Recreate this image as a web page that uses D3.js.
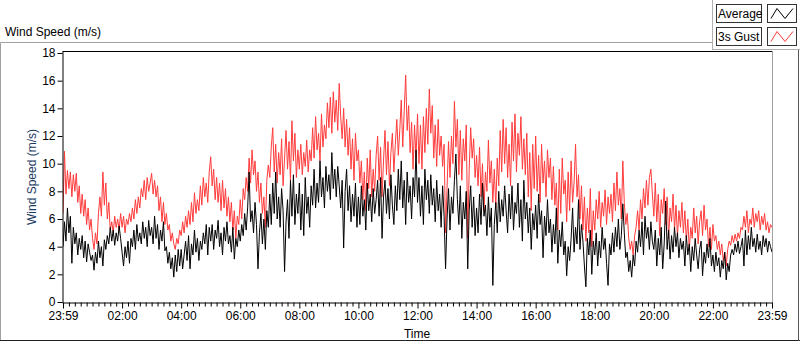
<!DOCTYPE html>
<html>
<head>
<meta charset="utf-8">
<script src="https://cdn.jsdelivr.net/npm/d3@7"></script>
<style>
  body { margin: 0; background: #fff; }
  svg { display: block; font-family: "Liberation Sans", Arial, sans-serif; }
</style>
</head>
<body>
<svg id="chart" width="800" height="342"></svg>
<script>
// minutes after 23:59, one sample every 3 minutes
const stepMinutes = 3;

// 3 second gust (m/s), one row per hour
const gust = [
  6.4, 10.9, 7.8, 9.5, 8.2, 9.4, 7.6, 9.2, 8.0, 9.3, 7.2, 8.4, 6.4, 7.8, 6.2, 7.4, 5.6, 6.8, 5.2, 6.0,
  4.6, 3.8, 5.0, 4.2, 6.4, 7.6, 6.2, 9.4, 7.0, 8.6, 6.0, 7.2, 5.2, 5.8, 5.0, 6.2, 5.4, 6.0, 5.2, 6.4,
  5.4, 6.2, 5.0, 6.0, 5.6, 6.4, 5.8, 6.8, 6.0, 7.4, 6.4, 7.6, 6.8, 8.2, 7.6, 8.8, 7.4, 9.0, 8.0, 8.6,
  9.3, 7.8, 8.8, 7.6, 8.4, 6.6, 7.6, 5.8, 7.2, 5.6, 6.4, 5.2, 5.6, 4.4, 5.0, 4.2, 3.8, 4.6, 4.2, 5.2,
  4.8, 5.8, 5.0, 6.2, 5.4, 6.6, 5.6, 7.2, 5.8, 7.9, 6.4, 7.4, 6.6, 8.4, 7.0, 9.0, 7.6, 8.6, 7.2, 9.4,
  10.5, 8.4, 9.6, 7.4, 9.0, 7.2, 8.6, 6.6, 8.8, 6.8, 8.2, 6.2, 7.6, 5.8, 7.2, 5.2, 6.6, 4.6, 6.2, 5.6,
  7.4, 6.0, 8.2, 7.4, 9.0, 8.0, 10.4, 8.6, 11.0, 9.2, 10.2, 8.0, 9.4, 7.2, 8.6, 6.4, 7.6, 5.4, 8.8, 9.9,
  9.0, 11.2, 12.6, 9.4, 11.4, 8.6, 10.8, 9.2, 11.8, 8.4, 10.4, 12.4, 9.6, 11.6, 8.8, 13.1, 10.2, 12.2, 9.0, 11.0,
  9.6, 11.4, 9.2, 10.8, 9.8, 11.7, 9.4, 11.0, 10.2, 12.6, 10.4, 13.4, 11.0, 12.2, 10.2, 13.6, 11.2, 12.8, 11.8, 14.4,
  12.6, 14.8, 12.2, 15.2, 13.0, 14.6, 12.4, 15.8, 13.4, 11.8, 14.0, 11.2, 13.2, 10.6, 12.6, 9.6, 11.8, 8.8, 12.2, 10.2,
  11.0, 8.6, 10.2, 7.4, 9.4, 6.6, 10.4, 8.2, 11.0, 7.6, 9.6, 8.0, 10.6, 12.0, 8.8, 11.2, 7.6, 10.2, 12.4, 9.2,
  11.6, 8.4, 10.8, 12.2, 9.4, 11.4, 13.2, 10.6, 12.4, 14.6, 11.2, 13.8, 16.4, 12.4, 14.2, 10.8, 13.0, 9.6, 12.8, 10.4,
  13.6, 10.0, 12.8, 9.6, 13.4, 10.8, 14.0, 11.4, 15.4, 12.2, 14.2, 10.4, 12.8, 9.8, 13.2, 10.6, 12.0, 9.8, 11.4, 5.0,
  8.2, 11.6, 9.0, 12.0, 10.0, 14.5, 11.2, 13.2, 9.2, 12.4, 8.8, 11.8, 10.2, 12.8, 4.6, 9.6, 12.6, 10.4, 11.8, 9.0,
  10.6, 8.4, 11.2, 7.6, 10.0, 6.6, 9.4, 8.0, 11.7, 8.6, 10.2, 7.2, 9.6, 6.8, 10.4, 8.4, 12.4, 9.4, 13.2, 10.0,
  12.6, 9.0, 11.4, 8.4, 13.0, 10.2, 13.6, 9.4, 12.2, 10.6, 13.4, 9.6, 11.8, 9.2, 12.2, 7.6, 10.8, 6.6, 11.4, 8.2,
  12.0, 8.0, 10.6, 7.2, 11.4, 8.6, 10.2, 7.6, 11.0, 9.0, 10.4, 7.4, 9.8, 7.0, 8.6, 5.2, 9.6, 6.4, 10.4, 7.8,
  8.8, 5.8, 9.4, 6.6, 10.2, 7.2, 8.6, 11.4, 7.6, 9.2, 6.0, 8.4, 5.2, 7.6, 4.4, 6.8, 5.0, 8.2, 4.0, 6.6,
  5.2, 7.4, 6.0, 8.0, 5.4, 7.2, 6.2, 8.1, 5.6, 7.6, 6.4, 7.8, 5.8, 8.6, 6.6, 9.4, 7.0, 8.2, 6.0, 10.2,
  7.2, 5.6, 6.4, 4.6, 3.8, 4.4, 3.4, 4.8, 5.4, 6.6, 5.2, 7.4, 6.0, 8.2, 6.8, 8.8, 7.0, 9.0, 9.6, 7.8,
  6.2, 8.6, 5.8, 7.8, 4.8, 7.4, 6.4, 8.2, 5.6, 7.6, 4.6, 6.8, 5.8, 7.8, 5.2, 7.0, 4.8, 6.6, 5.4, 7.2,
  5.0, 6.6, 4.4, 6.0, 3.8, 5.4, 4.6, 6.8, 5.0, 6.2, 4.2, 5.8, 6.6, 4.8, 7.0, 5.2, 6.0, 4.0, 5.4, 3.8,
  5.6, 4.4, 4.8, 3.8, 4.4, 3.4, 4.2, 3.0, 3.6, 2.6, 3.8, 4.4, 4.1, 4.8, 4.3, 4.9, 4.4, 5.0, 4.6, 5.4,
  5.2, 6.2, 5.4, 6.6, 5.0, 6.0, 5.6, 6.8, 5.4, 6.4, 5.8, 6.6, 5.2, 6.2, 5.6, 6.4, 5.2, 5.8, 5.0, 5.6,
  5.4
];

// average wind speed (m/s), one row per hour
const average = [
  4.0, 5.8, 4.4, 6.8, 5.0, 6.2, 2.8, 5.4, 4.2, 5.0, 3.4, 4.6, 3.8, 4.8, 3.2, 4.4, 2.9, 4.2, 3.6, 3.0,
  3.4, 2.3, 3.6, 2.8, 4.4, 3.2, 4.0, 2.6, 4.5, 3.8, 4.8, 4.2, 5.4, 4.4, 5.2, 4.1, 5.0, 4.4, 5.5, 4.6,
  3.6, 2.6, 4.0, 3.2, 4.4, 2.8, 4.6, 4.0, 5.2, 3.8, 5.6, 4.4, 5.0, 4.2, 5.8, 4.6, 5.4, 4.0, 5.9, 4.8,
  5.4, 4.2, 6.2, 4.6, 5.6, 3.8, 5.2, 4.4, 5.8, 3.7, 4.0, 2.8, 3.6, 2.4, 3.2, 1.8, 3.4, 2.2, 3.8, 2.6,
  3.8, 2.4, 3.4, 4.4, 3.0, 4.8, 2.4, 4.2, 3.4, 5.2, 3.6, 4.6, 3.0, 4.4, 3.8, 5.0, 4.2, 5.6, 3.4, 5.4,
  4.4, 5.6, 3.8, 5.2, 4.6, 5.9, 4.0, 5.0, 3.4, 5.4, 4.4, 5.8, 4.2, 4.8, 3.6, 5.4, 3.1, 4.6, 4.0, 5.2,
  4.4, 5.6, 4.8, 6.4, 5.2, 6.8, 9.4, 5.8, 6.6, 5.0, 7.2, 5.6, 2.4, 5.0, 6.4, 4.2, 6.0, 3.8, 6.6, 5.4,
  7.8, 5.6, 8.6, 6.4, 9.4, 6.0, 7.6, 5.4, 8.2, 6.6, 2.2, 5.8, 7.4, 4.6, 8.8, 6.2, 9.2, 5.6, 7.8, 6.4,
  8.6, 5.2, 7.8, 4.8, 9.0, 6.4, 7.6, 5.4, 8.4, 7.0, 9.6, 6.8, 8.6, 7.2, 10.2, 7.6, 9.0, 6.8, 9.8, 8.0,
  9.2, 7.4, 10.8, 8.2, 9.6, 7.6, 9.8, 8.4, 6.8, 8.8, 3.9, 8.0, 9.6, 6.6, 8.4, 5.8, 7.8, 6.2, 8.6, 5.4,
  7.6, 5.6, 8.4, 6.2, 7.4, 5.2, 8.6, 6.6, 7.8, 5.8, 8.2, 6.4, 7.4, 8.8, 6.2, 9.0, 4.6, 7.6, 8.8, 6.4,
  8.2, 6.0, 9.2, 7.0, 5.6, 8.4, 6.6, 9.6, 7.4, 10.2, 6.8, 8.8, 5.6, 9.4, 7.2, 8.4, 6.0, 9.0, 7.6, 11.0,
  7.2, 9.0, 6.2, 8.4, 5.6, 9.6, 7.4, 8.8, 6.4, 9.2, 7.0, 8.2, 5.8, 8.8, 6.6, 7.8, 5.4, 8.4, 6.2, 2.4,
  6.0, 8.2, 5.2, 7.6, 6.4, 8.8, 10.7, 7.4, 5.6, 8.4, 4.6, 7.2, 6.0, 8.0, 2.4, 6.6, 8.4, 5.4, 7.6, 4.8,
  6.8, 5.0, 7.8, 5.6, 8.6, 6.2, 7.0, 4.8, 7.6, 5.4, 6.8, 1.2, 5.6, 7.2, 5.0, 8.0, 5.8, 7.4, 6.2, 8.4,
  6.6, 5.0, 7.8, 6.0, 8.4, 5.2, 7.2, 6.4, 8.6, 5.4, 7.4, 4.4, 8.8, 6.0, 7.2, 5.0, 6.8, 3.8, 6.4, 5.2,
  7.0, 4.6, 7.8, 5.6, 6.6, 3.2, 6.2, 4.8, 7.4, 5.0, 6.0, 3.6, 5.6, 4.2, 6.8, 2.8, 5.2, 4.0, 5.8, 3.4,
  4.4, 1.9, 4.0, 3.0, 4.6, 6.8, 3.6, 5.4, 4.2, 7.4, 3.8, 5.6, 4.4, 2.6, 1.1, 4.6, 3.4, 5.2, 2.0, 4.4,
  3.4, 5.0, 2.6, 4.4, 3.2, 5.4, 3.8, 4.6, 2.8, 1.2, 4.2, 3.4, 5.0, 3.6, 5.4, 4.0, 6.0, 3.8, 4.8, 7.1,
  5.0, 3.2, 3.6, 2.2, 3.0, 1.8, 3.4, 2.6, 4.4, 3.6, 5.2, 4.0, 5.8, 3.4, 6.2, 4.6, 5.4, 3.8, 5.8, 4.4,
  3.8, 5.2, 2.6, 4.6, 3.4, 5.4, 2.4, 4.2, 7.3, 3.8, 5.2, 3.1, 4.8, 3.6, 5.4, 4.0, 5.0, 3.2, 4.6, 3.8,
  4.4, 2.6, 4.8, 3.4, 4.2, 2.2, 4.0, 3.0, 4.6, 3.4, 2.4, 3.8, 4.4, 1.9, 3.6, 2.8, 4.2, 3.2, 4.6, 2.6,
  3.4, 2.2, 3.6, 2.6, 3.2, 1.8, 3.0, 2.4, 3.6, 1.6, 2.8, 2.2, 3.4, 3.8, 3.4, 4.2, 3.6, 4.4, 3.5, 4.0,
  4.6, 2.6, 5.2, 3.4, 4.8, 3.8, 5.4, 4.0, 4.6, 3.6, 4.9, 3.8, 4.4, 3.4, 4.8, 4.0, 4.6, 3.6, 4.4, 4.0,
  3.6
];

const timeLabels = ["23:59", "02:00", "04:00", "06:00", "08:00", "10:00", "12:00",
                    "14:00", "16:00", "18:00", "20:00", "22:00", "23:59"];
const yTicks = [0, 2, 4, 6, 8, 10, 12, 14, 16, 18];
const legendNames = ["Average", "3s Gust"];
const seriesColors = ["#000000", "#ff3b3b"];

const svg = d3.select("#chart");

const plot = { left: 62.5, right: 772.5, top: 51.5, bottom: 302.5 };

const x = d3.scaleLinear().domain([0, 1440]).range([63, 772]);
const y = d3.scaleLinear().domain([0, 18]).range([302, 53]);

// outer panel
svg.append("line").attr("x1", 0.5).attr("x2", 712).attr("y1", 42.5).attr("y2", 42.5).attr("stroke", "#a0a0a0");
svg.append("line").attr("x1", 0.5).attr("x2", 0.5).attr("y1", 42.5).attr("y2", 341).attr("stroke", "#a0a0a0");
svg.append("line").attr("x1", 0).attr("x2", 800).attr("y1", 340.5).attr("y2", 340.5).attr("stroke", "#222");
svg.append("line").attr("x1", 798.5).attr("x2", 798.5).attr("y1", 49).attr("y2", 341).attr("stroke", "#555");

svg.append("text")
    .attr("x", 5).attr("y", 36)
    .attr("font-size", 12).attr("fill", "#000")
    .text("Wind Speed (m/s)");

// legend
const legend = svg.append("g");
legend.append("rect").attr("x", 712.5).attr("y", -1).attr("width", 90).attr("height", 50.5)
    .attr("fill", "#fff").attr("stroke", "#b0b0b0");
legendNames.forEach((name, i) => {
    const ty = 4.5 + i * 23;
    legend.append("rect").attr("x", 716.5).attr("y", ty).attr("width", 45).attr("height", 18)
        .attr("fill", "#fff").attr("stroke", "#333");
    legend.append("text").attr("x", 718).attr("y", ty + 13.5)
        .attr("font-size", 12).attr("fill", "#000").text(name);
    legend.append("rect").attr("x", 767.5).attr("y", ty).attr("width", 29).attr("height", 18)
        .attr("fill", "#fff").attr("stroke", "#333");
    legend.append("path")
        .attr("d", `M${771},${ty + 14} L${777},${ty + 4} L${785},${ty + 14} L${793},${ty + 4}`)
        .attr("fill", "none").attr("stroke", seriesColors[i]).attr("stroke-width", 1);
});

svg.append("defs").append("clipPath").attr("id", "clip")
    .append("rect").attr("x", 63).attr("y", 52)
    .attr("width", 709).attr("height", 250);

const times = d3.range(0, 1441, stepMinutes);
const line = d3.line()
    .x((d, i) => x(times[i]))
    .y(d => y(d));

const lines = svg.append("g").attr("clip-path", "url(#clip)");
lines.append("path").datum(gust)
    .attr("d", line).attr("fill", "none")
    .attr("stroke", seriesColors[1]).attr("stroke-width", 1);
lines.append("path").datum(average)
    .attr("d", line).attr("fill", "none")
    .attr("stroke", seriesColors[0]).attr("stroke-width", 1);

svg.append("line").attr("x1", plot.left).attr("x2", plot.right).attr("y1", plot.top).attr("y2", plot.top).attr("stroke", "#000");
svg.append("line").attr("x1", plot.right).attr("x2", plot.right).attr("y1", plot.top).attr("y2", plot.bottom).attr("stroke", "#a0a0a0");

// y axis
const yAxis = svg.append("g")
    .attr("transform", `translate(${plot.left},0)`)
    .call(d3.axisLeft(y).tickValues(yTicks).tickSize(5).tickSizeOuter(0).tickPadding(2));
yAxis.select(".domain").attr("d", `M0.5,${plot.top}V${plot.bottom}`).attr("stroke", "#000");
yAxis.selectAll("text").attr("font-size", 12).attr("font-family", "Liberation Sans, Arial").attr("fill", "#000");

svg.append("text")
    .attr("transform", `translate(36,${(plot.top + plot.bottom) / 2}) rotate(-90)`)
    .attr("text-anchor", "middle")
    .attr("font-size", 12).attr("fill", "#1b3a63")
    .text("Wind Speed (m/s)");

// x axis
const majorTicks = d3.range(0, 1441, 120);
const minorTicks = d3.range(0, 1441, 12).filter(t => t % 120 !== 0);

const xMinor = svg.append("g")
    .attr("transform", `translate(0,${plot.bottom})`)
    .call(d3.axisBottom(x).tickValues(minorTicks).tickSize(4).tickFormat(""));
xMinor.select(".domain").remove();

const xAxis = svg.append("g")
    .attr("transform", `translate(0,${plot.bottom})`)
    .call(d3.axisBottom(x).tickValues(majorTicks).tickSize(6).tickSizeOuter(0).tickPadding(3)
        .tickFormat((d, i) => timeLabels[i]));
xAxis.select(".domain").attr("d", `M${plot.left},0.5H${plot.right}`).attr("stroke", "#000");
xAxis.selectAll("text").attr("font-size", 12).attr("font-family", "Liberation Sans, Arial").attr("fill", "#000");

svg.append("text")
    .attr("x", 417).attr("y", 338)
    .attr("text-anchor", "middle")
    .attr("font-size", 12).attr("fill", "#000")
    .text("Time");
</script>
</body>
</html>
